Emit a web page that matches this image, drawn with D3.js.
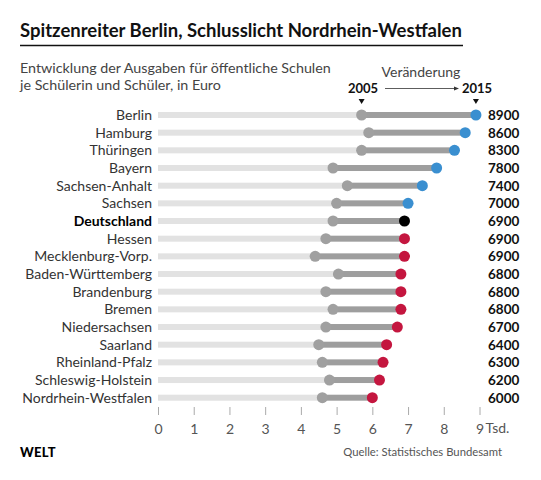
<!DOCTYPE html>
<html><head><meta charset="utf-8">
<script src="https://cdn.jsdelivr.net/npm/d3@7"></script>
<style>body{margin:0;background:#fff}svg{display:block}text{font-family:Lato,"Open Sans",sans-serif}</style>
</head><body><svg id="c" width="541" height="480"></svg>
<script>
const states = ["Berlin","Hamburg","Thüringen","Bayern","Sachsen-Anhalt","Sachsen","Deutschland","Hessen","Mecklenburg-Vorp.","Baden-Württemberg","Brandenburg","Bremen","Niedersachsen","Saarland","Rheinland-Pfalz","Schleswig-Holstein","Nordrhein-Westfalen"];
const v2005 = [5.7,5.9,5.7,4.9,5.3,5.0,4.9,4.7,4.4,5.05,4.7,4.9,4.7,4.5,4.6,4.8,4.6];
const v2015 = [8900,8600,8300,7800,7400,7000,6900,6900,6900,6800,6800,6800,6700,6400,6300,6200,6000];
const groups = ["up","up","up","up","up","up","de","down","down","down","down","down","down","down","down","down","down"];
const ticks = [0,1,2,3,4,5,6,7,8,9];

const svg = d3.select("#c");
const x = d3.scaleLinear().domain([0,9]).range([158,479.5]);
const y = d3.scalePoint().domain(states).range([115,397.7]);
const col = d3.scaleOrdinal().domain(["up","de","down"]).range(["#3a8fd0","#000000","#c4163f"]);
const data = states.map((s,i)=>({s,a:v2005[i],b:v2015[i]/1000,lbl:v2015[i],g:groups[i]}));

// title
svg.append("text").attr("x",20).attr("y",37).attr("font-size",18.5).attr("font-weight",700).attr("fill","#111")
  .text("Spitzenreiter Berlin, Schlusslicht Nordrhein-Westfalen");
svg.append("line").attr("x1",20).attr("x2",463).attr("y1",45.5).attr("y2",45.5).attr("stroke","#111").attr("stroke-width",1.5);
svg.append("text").attr("x",20).attr("y",73).attr("font-size",14.3).attr("fill","#444")
  .text("Entwicklung der Ausgaben für öffentliche Schulen");
svg.append("text").attr("x",20).attr("y",90).attr("font-size",14.3).attr("fill","#444")
  .text("je Schülerin und Schüler, in Euro");

// legend
svg.append("text").attr("x",421).attr("y",77).attr("text-anchor","middle").attr("font-size",14).attr("fill","#444").text("Veränderung");
svg.append("text").attr("x",363).attr("y",93).attr("text-anchor","middle").attr("font-size",13).attr("font-weight",700).attr("fill","#111").text("2005");
svg.append("text").attr("x",477).attr("y",93).attr("text-anchor","middle").attr("font-size",13).attr("font-weight",700).attr("fill","#111").text("2015");
svg.append("line").attr("x1",385).attr("x2",455).attr("y1",88.5).attr("y2",88.5).attr("stroke","#333").attr("stroke-width",0.8);
svg.append("path").attr("d","M459,88.5 L454,86.5 L454,90.5Z").attr("fill","#333");
[x(v2005[0]), x(v2015[0]/1000)].forEach(px=>{
  svg.append("path").attr("d",`M${px-3},99 L${px+3},99 L${px},104Z`).attr("fill","#111");
});

// rows
const g = svg.append("g");
g.selectAll(".lbl").data(data).join("text")
  .attr("x",152).attr("y",d=>y(d.s)+5).attr("text-anchor","end").attr("font-size",14)
  .attr("font-weight",d=>d.g==="de"?700:400).attr("fill",d=>d.g==="de"?"#000":"#333").text(d=>d.s);
g.selectAll(".bg").data(data).join("rect")
  .attr("x",x(0)).attr("y",d=>y(d.s)-3).attr("width",d=>x(d.a)-x(0)).attr("height",6).attr("fill","#e2e2e2");
g.selectAll(".ch").data(data).join("rect")
  .attr("x",d=>x(d.a)).attr("y",d=>y(d.s)-3).attr("width",d=>x(d.b)-x(d.a)).attr("height",6).attr("fill","#9e9e9e");
g.selectAll(".d1").data(data).join("circle")
  .attr("cx",d=>x(d.a)).attr("cy",d=>y(d.s)).attr("r",5.5).attr("fill","#a0a0a0");
g.selectAll(".d2").data(data).join("circle")
  .attr("cx",d=>x(d.b)).attr("cy",d=>y(d.s)).attr("r",5.5).attr("fill",d=>col(d.g));
g.selectAll(".val").data(data).join("text")
  .attr("x",488).attr("y",d=>y(d.s)+5).attr("font-size",13.5).attr("font-weight",700).attr("fill","#111").text(d=>d.lbl);

// axis
const ax = svg.append("g").attr("transform","translate(0,407)")
  .call(d3.axisBottom(x).tickValues(ticks).tickSize(8).tickPadding(9).tickFormat(d3.format("d")));
ax.select(".domain").remove();
ax.selectAll(".tick line").attr("stroke","#aaa");
ax.selectAll(".tick text").attr("font-size",14).attr("fill","#555").attr("font-family","Lato,sans-serif");
svg.append("text").attr("x",x(9)+6).attr("y",433).attr("font-size",14).attr("fill","#555").text("Tsd.");

// footer
svg.append("text").attr("x",20).attr("y",457).attr("font-size",13).attr("font-weight",900).attr("fill","#000").attr("letter-spacing",0.3).text("WELT");
svg.append("text").attr("x",502).attr("y",456).attr("text-anchor","end").attr("font-size",11.3).attr("fill","#555").text("Quelle: Statistisches Bundesamt");
</script></body></html>
